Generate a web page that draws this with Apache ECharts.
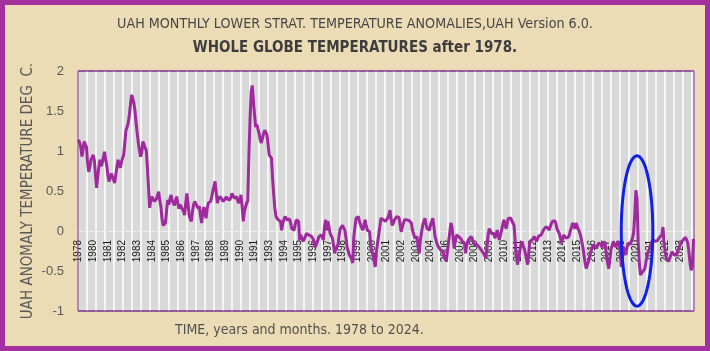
<!DOCTYPE html>
<html>
<head>
<meta charset="utf-8">
<script src="https://cdn.jsdelivr.net/npm/echarts@6/dist/echarts.min.js"></script>
<style>
    body { margin: 0; }
    #wrap { position: relative; width: 710px; height: 351px; }
    #uah_line { position: absolute; left: 0; top: 0; width: 710px; height: 351px; background: #ecdcb5; }
    #frame { position: absolute; left: 0; top: 0; width: 710px; height: 351px; box-sizing: border-box;
             border: 5px solid #a3309f; pointer-events: none; }
</style>
</head>
<body>
<div id="wrap">
    <div id="uah_line"></div>
    <div id="frame"></div>
</div>
<script>
// UAH v6.0 lower stratosphere, whole globe, monthly anomaly (deg C), from Dec 1978
const startYear = 1978
const startMonth = 12
const anomaly = [
    1.14,                                                                    // 1978 Dec
    1.10, 1.05, 0.93, 1.02, 1.12, 1.08, 1.05, 0.85, 0.74, 0.80, 0.89, 0.92, // 1979
    0.95, 0.88, 0.70, 0.54, 0.68, 0.80, 0.89, 0.81, 0.85, 0.92, 0.99, 0.90, // 1980
    0.82, 0.70, 0.62, 0.66, 0.72, 0.68, 0.64, 0.60, 0.70, 0.80, 0.89, 0.84, // 1981
    0.79, 0.86, 0.91, 0.95, 1.10, 1.26, 1.30, 1.35, 1.45, 1.58, 1.70, 1.66, // 1982
    1.60, 1.50, 1.35, 1.22, 1.10, 1.00, 0.93, 0.98, 1.12, 1.08, 1.04, 1.01, // 1983
    0.80, 0.55, 0.29, 0.38, 0.43, 0.40, 0.37, 0.35, 0.40, 0.45, 0.49, 0.38, // 1984
    0.30, 0.15, 0.07, 0.08, 0.10, 0.25, 0.39, 0.33, 0.40, 0.45, 0.38, 0.36, // 1985
    0.32, 0.38, 0.43, 0.35, 0.28, 0.33, 0.30, 0.32, 0.25, 0.20, 0.35, 0.47, // 1986
    0.35, 0.20, 0.15, 0.12, 0.25, 0.33, 0.37, 0.34, 0.32, 0.28, 0.31, 0.30, // 1987
    0.10, 0.22, 0.30, 0.22, 0.16, 0.28, 0.35, 0.33, 0.37, 0.42, 0.50, 0.55, // 1988
    0.62, 0.48, 0.35, 0.40, 0.43, 0.45, 0.40, 0.37, 0.35, 0.40, 0.43, 0.40, // 1989
    0.38, 0.39, 0.42, 0.47, 0.44, 0.41, 0.40, 0.43, 0.38, 0.35, 0.40, 0.45, // 1990
    0.30, 0.12, 0.25, 0.30, 0.35, 0.38, 0.95, 1.40, 1.74, 1.82, 1.62, 1.45, // 1991
    1.30, 1.33, 1.35, 1.22, 1.14, 1.10, 1.16, 1.22, 1.26, 1.24, 1.20, 1.08, // 1992
    0.95, 0.93, 0.91, 0.65, 0.45, 0.28, 0.18, 0.16, 0.14, 0.15, 0.12, 0.01, // 1993
    0.10, 0.14, 0.18, 0.16, 0.14, 0.12, 0.15, 0.10, 0.03, 0.05, 0.01, 0.08, // 1994
    0.14, 0.13, 0.12, -0.11, -0.05, -0.07, -0.13, -0.10, -0.07, -0.03, -0.01, -0.05, // 1995
    -0.07, -0.06, -0.05, -0.10, -0.17, -0.20, -0.22, -0.12, -0.07, -0.06, -0.05, -0.08, // 1996
    -0.11, 0.05, 0.14, 0.01, 0.12, 0.05, -0.03, -0.06, -0.09, -0.18, -0.28, -0.22, // 1997
    -0.20, -0.17, -0.05, 0.03, 0.05, 0.07, 0.04, 0.01, -0.08, -0.20, -0.25, -0.30, // 1998
    -0.30, -0.35, -0.40, -0.07, 0.05, 0.16, 0.17, 0.18, 0.12, 0.07, 0.04, 0.01, // 1999
    0.08, 0.14, 0.06, 0.01, 0.00, -0.01, -0.20, -0.25, -0.30, -0.38, -0.45, -0.26, // 2000
    -0.15, -0.05, 0.05, 0.16, 0.15, 0.14, 0.13, 0.12, 0.14, 0.16, 0.20, 0.26, // 2001
    0.15, 0.07, 0.10, 0.14, 0.16, 0.18, 0.17, 0.17, 0.08, -0.01, 0.05, 0.10, // 2002
    0.14, 0.16, 0.14, 0.12, 0.13, 0.15, 0.10, 0.01, -0.04, -0.09, -0.08, -0.07, // 2003
    -0.20, -0.28, -0.11, -0.02, 0.07, 0.12, 0.16, 0.08, 0.03, 0.02, 0.01, 0.08, // 2004
    0.12, 0.16, 0.05, -0.07, -0.12, -0.17, -0.20, -0.22, -0.24, -0.25, -0.26, -0.32, // 2005
    -0.35, -0.38, -0.25, -0.13, -0.02, 0.10, 0.05, 0.03, -0.22, -0.12, -0.05, -0.06, // 2006
    -0.07, -0.06, -0.10, -0.13, -0.11, -0.15, -0.28, -0.18, -0.13, -0.10, -0.08, -0.07, // 2007
    -0.10, -0.14, -0.17, -0.15, -0.17, -0.18, -0.20, -0.22, -0.24, -0.26, -0.28, -0.30, // 2008
    -0.34, -0.20, -0.05, 0.03, 0.00, -0.03, -0.05, -0.03, -0.09, -0.05, 0.01, -0.05, // 2009
    -0.11, -0.05, 0.01, 0.08, 0.14, 0.08, 0.03, 0.10, 0.16, 0.14, 0.16, 0.15, // 2010
    0.10, 0.07, -0.13, -0.30, -0.42, -0.35, -0.26, -0.18, -0.13, -0.18, -0.22, -0.28, // 2011
    -0.35, -0.42, -0.28, -0.13, -0.12, -0.11, -0.09, -0.07, -0.10, -0.13, -0.09, -0.06, // 2012
    -0.05, -0.05, -0.02, 0.01, 0.03, 0.05, 0.07, 0.04, 0.01, 0.05, 0.09, 0.12, // 2013
    0.12, 0.13, 0.10, 0.03, 0.00, -0.03, -0.08, -0.15, -0.10, -0.05, -0.07, -0.09, // 2014
    -0.11, -0.08, -0.05, 0.01, 0.05, 0.10, 0.06, 0.03, 0.10, 0.06, 0.02, -0.01, // 2015
    -0.06, -0.13, -0.20, -0.30, -0.40, -0.47, -0.42, -0.38, -0.32, -0.26, -0.22, -0.17, // 2016
    -0.17, -0.19, -0.22, -0.18, -0.15, -0.13, -0.17, -0.20, -0.16, -0.13, -0.18, -0.32, // 2017
    -0.40, -0.47, -0.35, -0.22, -0.18, -0.13, -0.16, -0.20, -0.17, -0.15, -0.13, -0.25, // 2018
    -0.45, -0.35, -0.20, -0.25, -0.30, -0.22, -0.15, -0.16, -0.17, -0.12, -0.09, -0.02, // 2019
    0.20, 0.51, 0.41, -0.13, -0.40, -0.55, -0.53, -0.51, -0.49, -0.47, -0.38, -0.30, // 2020
    -0.30, -0.22, -0.17, -0.14, -0.11, -0.12, -0.13, -0.14, -0.12, -0.11, -0.08, -0.10, // 2021
    -0.05, 0.05, -0.17, -0.26, -0.34, -0.36, -0.38, -0.34, -0.30, -0.26, -0.28, -0.30, // 2022
    -0.32, -0.30, -0.26, -0.22, -0.18, -0.15, -0.13, -0.11, -0.09, -0.08, -0.07, -0.15, // 2023
    -0.26, -0.40, -0.49, -0.45, -0.10                                        // 2024 Jan-May
]
// year shown under every 13th month, as in the spreadsheet
const yearTicks = ['1978', '1980', '1981', '1982', '1983', '1984', '1985', '1986', '1987', '1988', '1989',
    '1990', '1991', '1993', '1994', '1995', '1996', '1997', '1998', '1999', '2000', '2001', '2002', '2003',
    '2004', '2006', '2007', '2008', '2009', '2010', '2011', '2012', '2013', '2014', '2015', '2016', '2017',
    '2018', '2020', '2021', '2022', '2023']
const yTicks = [-1, -0.5, 0, 0.5, 1, 1.5, 2]
// blue ring drawn round the 2020 spike: centre month, half width (months), half height (deg)
const ringMonth = '2020-03'
const ringHalfW = 14
const ringHalfH = 0.94

let months = []
for (let k = 0; k < anomaly.length; k++) {
    let m = startMonth - 1 + k
    let y = startYear + Math.floor(m / 12)
    months.push(y + '-' + String(m % 12 + 1).padStart(2, '0'))
}

const narrow = '"Liberation Sans Narrow", "DejaVu Sans Condensed", sans-serif'
const gridBox = { left: 78, top: 71, right: 16, bottom: 40 }
let uah_line = echarts.init(document.getElementById('uah_line'))
let option = {
    backgroundColor: 'transparent',
    animation: false,
    title: [
        {
            text: 'UAH MONTHLY LOWER STRAT. TEMPERATURE ANOMALIES,UAH Version 6.0.',
            left: 'center', top: 12,
            textStyle: { fontFamily: narrow, fontSize: 14.2, fontWeight: 'normal', color: '#474747' }
        },
        {
            text: 'WHOLE GLOBE TEMPERATURES after 1978.',
            left: 'center', top: 36,
            textStyle: { fontFamily: narrow, fontSize: 15, fontWeight: 'bold', color: '#3d3d3d' }
        },
        {
            text: 'TIME, years and months. 1978 to 2024.',
            left: 170, top: 318,
            textStyle: { fontFamily: narrow, fontSize: 14, fontWeight: 'normal', color: '#505050' }
        }
    ],
    grid: {
        left: gridBox.left, top: gridBox.top, right: gridBox.right, bottom: gridBox.bottom,
        show: true, backgroundColor: '#d9d9d9', borderColor: '#7a2e8e', borderWidth: 1,
        outerBoundsMode: 'none'
    },
    xAxis: {
        type: 'category',
        data: months,
        boundaryGap: true,
        axisLine: { onZero: false, lineStyle: { color: '#f0f0f0', type: 'dashed', width: 1 } },
        axisTick: { show: false, interval: 7 },
        splitLine: { show: true, interval: 7, lineStyle: { color: '#ffffff', width: 1.5 } },
        axisLabel: {
            interval: 12, rotate: 90, margin: 9,
            fontFamily: 'Liberation Sans, Arial, sans-serif', fontSize: 10, color: '#1a1a1a',
            formatter: function (value, index) {
                return yearTicks[index / 13] || ''
            }
        }
    },
    yAxis: {
        type: 'value',
        min: yTicks[0],
        max: yTicks[yTicks.length - 1],
        interval: 0.5,
        name: 'UAH ANOMALY TEMPERATURE DEG  C.',
        nameLocation: 'middle',
        nameGap: 42,
        nameMoveOverlap: false,
        nameTextStyle: { fontFamily: narrow, fontSize: 15, color: '#595959' },
        axisLine: { show: false },
        axisTick: { show: false },
        splitLine: { show: false },
        axisLabel: {
            margin: 14,
            fontFamily: 'Liberation Sans, Arial, sans-serif', fontSize: 13, color: '#595959'
        }
    },
    series: [
        {
            name: 'TLS',
            type: 'line',
            data: anomaly,
            symbol: 'none',
            lineStyle: { color: '#9e2a9e', width: 3 },
            z: 3
        }
    ]
}
uah_line.setOption(option)

// the category axis sits on the zero line (labels inside the plot), like Excel
let yZero = uah_line.convertToPixel({ yAxisIndex: 0 }, 0)
let yBottom = uah_line.convertToPixel({ yAxisIndex: 0 }, yTicks[0])
let yTop = uah_line.convertToPixel({ yAxisIndex: 0 }, yTicks[yTicks.length - 1])

// ring round the 2020 spike, placed through the axes
let c = uah_line.convertToPixel({ gridIndex: 0 }, [ringMonth, 0])
let e = uah_line.convertToPixel({ gridIndex: 0 }, [months[months.indexOf(ringMonth) + ringHalfW], ringHalfH])
let rx = Math.abs(e[0] - c[0])
let ry = Math.abs(c[1] - e[1])
let pts = []
for (let a = 0; a < 72; a++) {
    let t = a / 72 * Math.PI * 2
    pts.push([c[0] + rx * Math.cos(t), c[1] + ry * Math.sin(t)])
}
uah_line.setOption({
    xAxis: { offset: -(yBottom - yZero) },
    graphic: [
        {
            // plot frame on top of the white month lines
            type: 'rect',
            shape: { x: gridBox.left, y: yTop, width: 710 - gridBox.left - gridBox.right, height: yBottom - yTop },
            style: { fill: 'none', stroke: '#7a2e8e', lineWidth: 1 },
            z: 9
        },
        {
            type: 'polygon',
            shape: { points: pts },
            style: { fill: 'none', stroke: '#1020e8', lineWidth: 3 },
            z: 10
        }
    ]
})
</script>
</body>
</html>
